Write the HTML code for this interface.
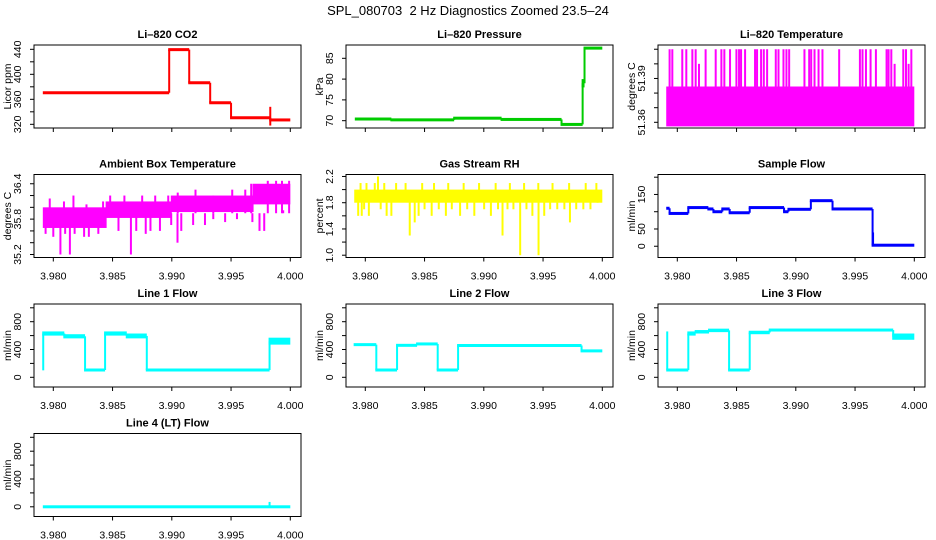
<!DOCTYPE html>
<html><head><meta charset="utf-8">
<style>
html,body{margin:0;padding:0;background:#fff;}
svg{display:block;font-family:"Liberation Sans",Arial,sans-serif;}
</style></head>
<body>
<svg id="fig" width="936" height="540" viewBox="0 0 936 540">
<rect width="936" height="540" fill="#fff"/>
<text x="468" y="15" font-size="13" text-anchor="middle">SPL_080703 &#160;2 Hz Diagnostics Zoomed 23.5–24</text>
</svg>
<script>
// ---- data ----
const xTicks = [3.980, 3.985, 3.990, 3.995, 4.000];
const xTickLabels = ["3.980","3.985","3.990","3.995","4.000"];

const co2X  = [3.9792,3.98978,3.99147,3.99324,3.9950,3.99831,4.0];
const co2Lo = [369,438,385,353,329,326];
const co2Hi = [372,441,388,356,332,328];
const co2SpikeX = [3.99831];
const co2SpikeLo = [318];
const co2SpikeHi = [348];

const presX  = [3.9792,3.9822,3.9875,3.9915,3.99656,3.99834,3.9985,4.0];
const presLo = [70.3,70.1,70.5,70.2,69.0,78.0,87.3];
const presHi = [70.5,70.3,70.7,70.4,69.2,80.0,87.6];

const tempX  = [3.97915,4.0];
const tempLo = [51.3572];
const tempHi = [51.3845];
const tempSpikeX = [3.97935,3.97958,3.98042,3.98076,3.98127,3.98155,3.98183,3.98239,3.98324,3.98372,3.98397,3.98445,3.98499,3.98521,3.98538,3.98572,3.98656,3.98673,3.98707,3.9873,3.98758,3.98831,3.98854,3.98896,3.98921,3.98944,3.99073,3.99113,3.9913,3.99158,3.99192,3.99225,3.99366,3.99541,3.99563,3.99592,3.99631,3.99676,3.99766,3.99783,3.99806,3.99834,3.99907,3.9993,3.99952,3.99975];
const tempSpikeV = [51.41,51.41,51.41,51.41,51.41,51.41,51.40,51.41,51.41,51.41,51.41,51.41,51.41,51.41,51.41,51.41,51.41,51.41,51.41,51.41,51.41,51.41,51.41,51.41,51.41,51.41,51.41,51.41,51.41,51.41,51.41,51.41,51.41,51.41,51.41,51.41,51.41,51.41,51.41,51.41,51.41,51.40,51.41,51.41,51.40,51.41];

const ambX  = [3.9792,3.9845,3.9900,3.9969,4.0];
const ambLo = [35.65,35.82,35.92,36.05];
const ambHi = [36.0,36.1,36.2,36.4];
const ambSpikeX = [3.97935,3.9800,3.9806,3.9810,3.9814,3.9818,3.9826,3.9830,3.9838,3.9855,3.98655,3.9870,3.9878,3.9882,3.9890,3.98995,3.99048,3.9908,3.9918,3.9928,3.9935,3.9945,3.9955,3.9968,3.9974,3.9978,3.9986,3.9994,
  3.9797,3.9809,3.9817,3.9828,3.9842,3.9848,3.9860,3.9875,3.9886,3.9897,3.9905,3.9920,3.9935,3.9951,3.9962,3.9967,3.9981,3.9988,3.9993,3.9999];
const ambSpikeV = [35.55,35.5,35.2,35.55,35.2,35.55,35.5,35.5,35.55,35.6,35.2,35.6,35.55,35.6,35.6,35.7,35.4,35.6,35.7,35.7,35.8,35.75,35.8,35.75,35.6,35.6,35.9,35.95,
  36.15,36.1,36.2,36.05,36.1,36.2,36.2,36.2,36.2,36.2,36.25,36.3,36.2,36.3,36.3,36.4,36.45,36.45,36.45,36.45];

const rhX  = [3.97915,4.0];
const rhLo = [1.8];
const rhHi = [2.0];
const rhSpikeX = [3.9794,3.9797,3.9799,3.9803,3.98107,3.9813,3.9818,3.9822,3.98375,3.98417,3.9845,3.9850,3.9856,3.9862,3.9868,3.9873,3.9880,3.9886,3.9892,3.99003,3.9906,3.9912,3.99158,3.9920,3.9925,3.99307,3.9936,3.9941,3.99462,3.9951,3.9956,3.9962,3.9968,3.99727,3.9978,3.9984,3.9990,3.9996,
  3.9796,3.9801,3.9808,3.9816,3.9826,3.9834,3.9848,3.9858,3.9870,3.9883,3.9896,3.9910,3.9922,3.9934,3.9946,3.9958,3.9972,3.9986,3.9995];
const rhSpikeV = [1.6,1.6,1.7,1.6,2.2,1.7,1.6,1.6,1.3,1.5,1.6,1.7,1.6,1.7,1.6,1.7,1.6,1.7,1.6,1.7,1.6,1.7,1.3,1.7,1.7,1.0,1.7,1.6,1.0,1.6,1.7,1.7,1.7,1.5,1.7,1.7,1.7,1.8,
  2.1,2.1,2.1,2.1,2.1,2.1,2.1,2.1,2.1,2.1,2.1,2.1,2.1,2.1,2.1,2.1,2.1,2.1,2.1];

const sfX  = [3.97915,3.97935,3.98093,3.98262,3.98282,3.98305,3.98380,3.98442,3.98611,3.98901,3.98938,3.99127,3.9931,3.99648,4.0];
const sfVal = [110,95,112,108,108,100,108,97,112,100,107,132,108,3];
const sfSpikeX = [3.99652];
const sfSpikeV = [40];

const l1X  = [3.97915,3.98093,3.98268,3.98437,3.98620,3.98789,3.99825,4.0];
const l1Lo = [600,560,95,600,560,95,470];
const l1Hi = [660,620,115,660,630,115,570];
const l1Start = 100;

const l2X  = [3.9791,3.98093,3.98268,3.98437,3.98611,3.98783,3.99825,4.0];
const l2Lo = [450,95,445,465,95,445,360];
const l2Hi = [490,115,475,495,115,470,400];

const l3X  = [3.97915,3.98093,3.98155,3.98268,3.98437,3.98611,3.98780,3.99822,4.0];
const l3Lo = [95,600,630,650,95,620,660,540];
const l3Hi = [115,660,680,700,115,670,700,630];
const l3Start = 660;

const l4X  = [3.9792,4.0];
const l4Lo = [-10];
const l4Hi = [10];
const l4SpikeX = [3.99825];
const l4SpikeV = [70];

// ---- layout ----
const svg = document.getElementById('fig');
const NS = 'http://www.w3.org/2000/svg';
const colLeft = [34, 346, 658];
const rowTop = [45, 174.5, 304, 433.5];
const BW = 267, BH = 83;

function el(tag, attrs, parent){
  const e = document.createElementNS(NS, tag);
  for (const k in attrs) e.setAttribute(k, attrs[k]);
  (parent||svg).appendChild(e);
  return e;
}

function makePanel(cfg){
  const L = colLeft[cfg.col], T = rowTop[cfg.row];
  const g = el('g', {});
  
  
  const xs = v => L + 19.3 + (v - 3.98) / 0.02 * 237;
  const ys = v => T + BH - (v - cfg.yBot) / (cfg.yTop - cfg.yBot) * BH;
  const t = el('text', {x: L + BW/2, y: T - 7, 'font-size': 11, 'font-weight': 'bold', 'text-anchor': 'middle'}, g);
  t.textContent = cfg.title;
  
  
  const d = el('g', {}, g);
  
  
  cfg.draw(d, xs, ys, cfg.color);
  const b = el('rect', {x: L, y: T, width: BW, height: BH, fill: 'none', stroke: '#000', 'stroke-width': 1}, g);
  
  
  const xa = el('g', {}, g);
  
  
  xTicks.forEach((v, i) => {
    const x = xs(v);
    el('line', {x1: x, x2: x, y1: T + BH, y2: T + BH + 4, stroke: '#000'}, xa);
    if (cfg.row > 0) {
      const tl = el('text', {x: x, y: T + BH + 22, 'font-size': 10.5, 'text-anchor': 'middle'}, xa);
      tl.textContent = xTickLabels[i];
    }
  });
  const ya = el('g', {}, g);
  
  
  cfg.yTicks.forEach(v => {
    const y = ys(v);
    el('line', {x1: L - 4, x2: L, y1: y, y2: y, stroke: '#000'}, ya);
  });
  cfg.yLabels.forEach((lab, i) => {
    const y = ys(cfg.yLabelVals[i]);
    const tl = el('text', {x: L - 13, y: y, 'font-size': 10.5, 'text-anchor': 'middle', transform: `rotate(-90 ${L-13} ${y})`}, ya);
    tl.textContent = lab;
  });
  const yt = el('text', {x: L - 23, y: T + BH/2, 'font-size': 10.5, 'text-anchor': 'middle', transform: `rotate(-90 ${L-23} ${T+BH/2})`}, ya);
  yt.textContent = cfg.ylab;
  
  
}

function bands(g, xs, ys, color, X, lo, hi, start){
  let prevMid = start;
  for (let i = 0; i < lo.length; i++) {
    const x0 = xs(X[i]), x1 = xs(X[i+1]);
    const yA = ys(hi[i]), yB = ys(lo[i]);
    const h = Math.max(3, yB - yA);
    const r = el('rect', {x: x0 - 1, y: (yA + yB)/2 - h/2, width: Math.max(1, x1 - x0 + 1), height: h, fill: color}, g);
    
    
    const mid = (lo[i] + hi[i]) / 2;
    if (prevMid !== undefined) {
      el('line', {x1: x0, x2: x0, y1: ys(prevMid), y2: ys(mid), stroke: color, 'stroke-width': 2}, g);
    }
    prevMid = mid;
  }
}
function spikes(g, xs, ys, color, SX, from, to, w){
  for (let i = 0; i < SX.length; i++) {
    const x = xs(SX[i]);
    const s = el('line', {x1: x, x2: x, y1: ys(Array.isArray(from) ? from[i] : from), y2: ys(to[i]), stroke: color, 'stroke-width': w || 2}, g);
    
    
  }
}
function seq(a, b, s){ const r = []; for (let v = a; v <= b + s/1000; v += s) r.push(+v.toFixed(6)); return r; }

const flowTicks = seq(0, 1000, 200);

const panels = [
  {name:'co2', title:'Li\u2013820 CO2', ylab:'Licor ppm', col:0, row:0, color:'#ff0000', yTop:446.9, yBot:314.1,
   yTicks: seq(320,440,20), yLabels:['320','360','400','440'], yLabelVals:[320,360,400,440],
   draw:(g,xs,ys,c)=>{ bands(g,xs,ys,c,co2X,co2Lo,co2Hi); spikes(g,xs,ys,c,co2SpikeX,co2SpikeLo,co2SpikeHi,2); }},
  {name:'pressure', title:'Li\u2013820 Pressure', ylab:'kPa', col:1, row:0, color:'#00cc00', yTop:88.2, yBot:68.24,
   yTicks:[70,75,80,85], yLabels:['70','75','80','85'], yLabelVals:[70,75,80,85],
   draw:(g,xs,ys,c)=>{ bands(g,xs,ys,c,presX,presLo,presHi); }},
  {name:'li820-temperature', title:'Li\u2013820 Temperature', ylab:'degrees C', col:2, row:0, color:'#ff00ff', yTop:51.4129, yBot:51.3561,
   yTicks: seq(51.36,51.41,0.01), yLabels:['51.36','51.39'], yLabelVals:[51.36,51.39],
   draw:(g,xs,ys,c)=>{ bands(g,xs,ys,c,tempX,tempLo,tempHi); spikes(g,xs,ys,c,tempSpikeX,51.38,tempSpikeV,2); }},
  {name:'ambient-box-temperature', title:'Ambient Box Temperature', ylab:'degrees C', col:0, row:1, color:'#ff00ff', yTop:36.557, yBot:35.149,
   yTicks: seq(35.2,36.4,0.2), yLabels:['35.2','35.8','36.4'], yLabelVals:[35.2,35.8,36.4],
   draw:(g,xs,ys,c)=>{ bands(g,xs,ys,c,ambX,ambLo,ambHi); spikes(g,xs,ys,c,ambSpikeX,35.9,ambSpikeV,2); }},
  {name:'gas-stream-rh', title:'Gas Stream RH', ylab:'percent', col:1, row:1, color:'#ffff00', yTop:2.23, yBot:0.965,
   yTicks: seq(1.0,2.2,0.2), yLabels:['1.0','1.4','1.8','2.2'], yLabelVals:[1.0,1.4,1.8,2.2],
   draw:(g,xs,ys,c)=>{ bands(g,xs,ys,c,rhX,rhLo,rhHi); spikes(g,xs,ys,c,rhSpikeX,1.9,rhSpikeV,2); }},
  {name:'sample-flow', title:'Sample Flow', ylab:'ml/min', col:2, row:1, color:'#0000ff', yTop:207.8, yBot:-32.6,
   yTicks: seq(0,200,50), yLabels:['0','50','150'], yLabelVals:[0,50,150],
   draw:(g,xs,ys,c)=>{ bands(g,xs,ys,c,sfX,sfVal.map(v=>v-2),sfVal.map(v=>v+2)); spikes(g,xs,ys,c,sfSpikeX,3,sfSpikeV,2); }},
  {name:'line-1-flow', title:'Line 1 Flow', ylab:'ml/min', col:0, row:2, color:'#00ffff', yTop:1054.7, yBot:-139.6,
   yTicks: flowTicks, yLabels:['0','400','800'], yLabelVals:[0,400,800],
   draw:(g,xs,ys,c)=>{ bands(g,xs,ys,c,l1X,l1Lo,l1Hi,l1Start); }},
  {name:'line-2-flow', title:'Line 2 Flow', ylab:'ml/min', col:1, row:2, color:'#00ffff', yTop:1054.7, yBot:-139.6,
   yTicks: flowTicks, yLabels:['0','400','800'], yLabelVals:[0,400,800],
   draw:(g,xs,ys,c)=>{ bands(g,xs,ys,c,l2X,l2Lo,l2Hi); }},
  {name:'line-3-flow', title:'Line 3 Flow', ylab:'ml/min', col:2, row:2, color:'#00ffff', yTop:1054.7, yBot:-139.6,
   yTicks: flowTicks, yLabels:['0','400','800'], yLabelVals:[0,400,800],
   draw:(g,xs,ys,c)=>{ bands(g,xs,ys,c,l3X,l3Lo,l3Hi,l3Start); }},
  {name:'line-4-flow', title:'Line 4 (LT) Flow', ylab:'ml/min', col:0, row:3, color:'#00ffff', yTop:1054.7, yBot:-139.6,
   yTicks: flowTicks, yLabels:['0','400','800'], yLabelVals:[0,400,800],
   draw:(g,xs,ys,c)=>{ bands(g,xs,ys,c,l4X,l4Lo,l4Hi); spikes(g,xs,ys,c,l4SpikeX,0,l4SpikeV,2); }}
];
panels.forEach(makePanel);
</script>
</body></html>
